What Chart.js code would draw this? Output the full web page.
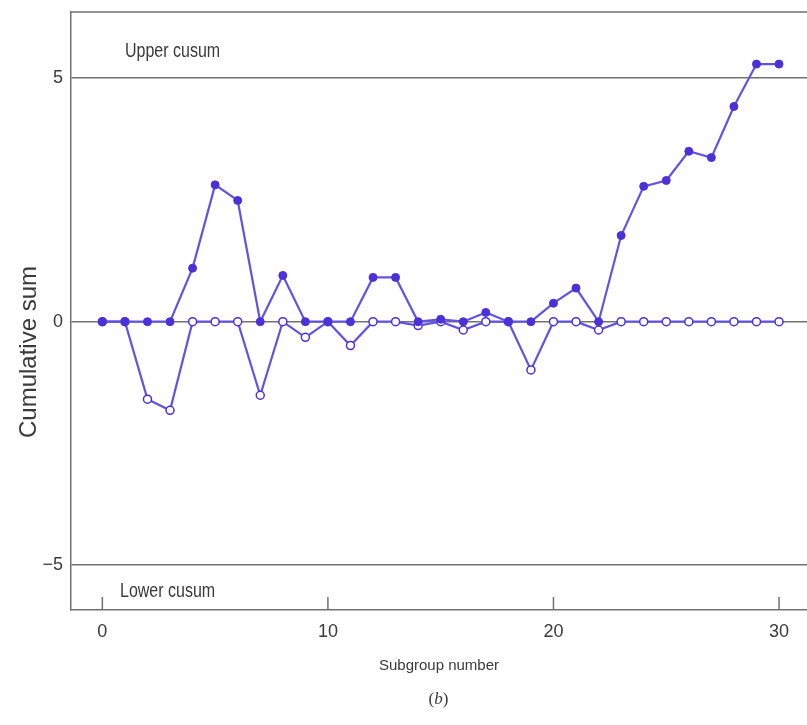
<!DOCTYPE html>
<html>
<head>
<meta charset="utf-8">
<script src="https://cdn.jsdelivr.net/npm/chart.js@4"></script>
<style>
    body { margin: 0; background: #ffffff; }
    #wrap { width: 807px; height: 725px; }
</style>
</head>
<body>
<div id="wrap"><canvas id="myChart" width="807" height="725"></canvas></div>
<script>
const subgroups = [0, 1, 2, 3, 4, 5, 6, 7, 8, 9, 10, 11, 12, 13, 14, 15,
    16, 17, 18, 19, 20, 21, 22, 23, 24, 25, 26, 27, 28, 29, 30];
// upper cusum (filled dots)
const upperCusum = [0, 0, 0, 0, 1.10, 2.81, 2.49, 0, 0.95, 0, 0, 0, 0.91, 0.91, 0, 0.05,
    0, 0.19, 0, 0, 0.38, 0.69, 0, 1.77, 2.78, 2.90, 3.50, 3.37, 4.42, 5.29, 5.29];
// lower cusum (open dots)
const lowerCusum = [0, 0, -1.59, -1.82, 0, 0, 0, -1.51, 0, -0.32, 0, -0.49, 0, 0, -0.08, 0,
    -0.17, 0, 0, -0.99, 0, 0, -0.17, 0, 0, 0, 0, 0, 0, 0, 0];
const xTickValues = [0, 10, 20, 30];
const yTickValues = [-5, 0, 5];

const sansFont = "'Liberation Sans', Arial, sans-serif";
const lineColor = 'rgba(96, 84, 228, 1)';
const dotColor = 'rgba(76, 48, 216, 1)';
const axisGray = '#727272';
const textColor = '#3a3a3a';

function toPoints(values) {
    return subgroups.map((x, i) => ({ x: x, y: values[i] }));
}

// condensed look for the labels drawn on the canvas
function narrowText(ctx, text, x, y, size) {
    ctx.save();
    ctx.translate(x, y);
    ctx.scale(0.8, 1);
    ctx.font = size + 'px ' + sansFont;
    ctx.fillText(text, 0, 0);
    ctx.restore();
}

// top frame line, inward x ticks and the free text labels
const extrasPlugin = {
    id: 'extras',
    beforeDatasetsDraw(chart) {
        const { ctx, chartArea, scales } = chart;
        ctx.save();
        ctx.strokeStyle = axisGray;
        ctx.lineWidth = 1.5;
        ctx.beginPath();
        ctx.moveTo(chartArea.left, chartArea.top);
        ctx.lineTo(chartArea.right, chartArea.top);
        xTickValues.forEach(v => {
            const px = scales.x.getPixelForValue(v);
            ctx.moveTo(px, chartArea.bottom);
            ctx.lineTo(px, chartArea.bottom - 13);
        });
        ctx.stroke();
        ctx.restore();
    },
    afterDraw(chart) {
        const { ctx, chartArea, scales } = chart;
        ctx.save();
        ctx.fillStyle = textColor;
        ctx.textAlign = 'left';
        ctx.textBaseline = 'alphabetic';
        narrowText(ctx, 'Upper cusum', chartArea.left + 54, scales.y.getPixelForValue(5) - 21, 20);
        narrowText(ctx, 'Lower cusum', chartArea.left + 49, scales.y.getPixelForValue(-5) + 32, 20);

        // y axis title, sits a little below the centre in the original
        ctx.save();
        ctx.translate(29, 352);
        ctx.rotate(-Math.PI / 2);
        ctx.textAlign = 'center';
        ctx.textBaseline = 'middle';
        ctx.font = '24px ' + sansFont;
        ctx.fillText('Cumulative sum', 0, 0);
        ctx.restore();

        // figure caption
        ctx.textBaseline = 'middle';
        const cx = scales.x.getPixelForValue(14.9);
        const parts = ['(', 'b', ')'];
        const fonts = ['17px "Liberation Serif", serif', 'italic 17px "Liberation Serif", serif', '17px "Liberation Serif", serif'];
        const widths = parts.map((p, i) => { ctx.font = fonts[i]; return ctx.measureText(p).width; });
        let x = cx - widths.reduce((a, b) => a + b, 0) / 2;
        parts.forEach((p, i) => {
            ctx.font = fonts[i];
            ctx.fillText(p, x, 700);
            x += widths[i];
        });
        ctx.restore();
    }
};

const ctx = document.getElementById('myChart').getContext('2d');
const myChart = new Chart(ctx, {
    type: 'line',
    data: {
        datasets: [{
            label: 'Upper cusum',
            data: toPoints(upperCusum),
            borderColor: lineColor,
            borderWidth: 2.2,
            pointRadius: 4,
            pointBackgroundColor: dotColor,
            pointBorderColor: dotColor,
            pointBorderWidth: 1,
            tension: 0,
            clip: false
        }, {
            label: 'Lower cusum',
            data: toPoints(lowerCusum),
            borderColor: lineColor,
            borderWidth: 2.2,
            pointRadius: 4,
            pointBackgroundColor: '#ffffff',
            pointBorderColor: dotColor,
            pointBorderWidth: 1.5,
            tension: 0,
            clip: false
        }]
    },
    options: {
        responsive: false,
        animation: false,
        layout: {
            autoPadding: false,
            padding: { top: 12, right: 0, left: 0, bottom: 0 }
        },
        plugins: {
            legend: { display: false },
            tooltip: { enabled: false }
        },
        scales: {
            x: {
                type: 'linear',
                min: -1.39,
                max: 31.24,
                afterBuildTicks: scale => {
                    scale.ticks = xTickValues.map(v => ({ value: v }));
                },
                afterFit: scale => {
                    scale.height = 115;
                    scale.paddingLeft = 0;
                    scale.paddingRight = 0;
                },
                grid: { display: false },
                border: { display: true, color: axisGray, width: 1.5 },
                ticks: {
                    color: textColor,
                    padding: 3,
                    maxRotation: 0,
                    font: { family: sansFont, size: 18 }
                },
                title: {
                    display: true,
                    text: 'Subgroup number',
                    color: textColor,
                    font: { family: sansFont, size: 15 },
                    padding: { top: 0, bottom: 50 }
                }
            },
            y: {
                type: 'linear',
                min: -5.92,
                max: 6.36,
                afterBuildTicks: scale => {
                    scale.ticks = yTickValues.map(v => ({ value: v }));
                },
                afterFit: scale => {
                    scale.width = 71;
                    scale.paddingTop = 0;
                    scale.paddingBottom = 0;
                },
                grid: {
                    color: axisGray,
                    lineWidth: 1.5,
                    drawTicks: false
                },
                border: { display: true, color: axisGray, width: 1.5 },
                ticks: {
                    color: textColor,
                    padding: 8,
                    font: { family: sansFont, size: 18 },
                    callback: v => (v < 0 ? '\u2212' + Math.abs(v) : String(v))
                }
            }
        }
    },
    plugins: [extrasPlugin]
});
</script>
</body>
</html>
